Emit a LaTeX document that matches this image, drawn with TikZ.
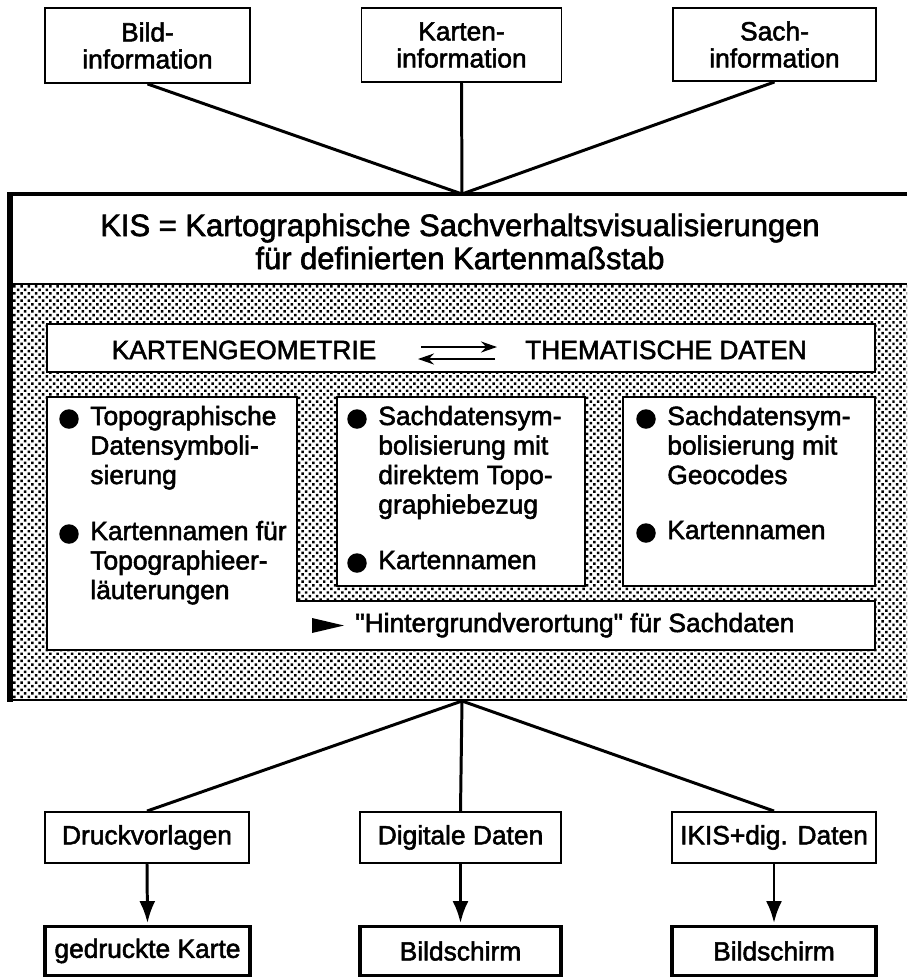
\documentclass[tikz,border=0pt]{standalone}
\usepackage{fontspec}
\setmainfont{Liberation Sans}[Ligatures=TeXOff,FakeBold=2]
\usetikzlibrary{patterns.meta,arrows.meta}
\newcommand\fs{\fontsize{15}{15.4}\selectfont}
\newcommand\mylines[1]{\vtop{\baselineskip=16.8pt\halign{##\hfil\cr#1\crcr}}}
\begin{document}
\begin{tikzpicture}[x=0.02cm,y=-0.02cm,
  box/.style={draw,line width=1.1pt,fill=white,align=center,font=\fs,inner sep=0},
  outbox/.style={draw,line width=1.9pt,fill=white,align=center,font=\fs,inner sep=0},
  conn/.style={line width=1.7pt},
  arr/.style={line width=1.7pt,-{Latex[length=0.44cm,width=0.32cm]},shorten >=1pt},
  harr/.style={line width=1.3pt,-{Stealth[length=0.32cm,width=0.22cm]}},
  txt/.style={font=\fs,inner sep=0},
  bul/.style={circle,fill,inner sep=0,minimum size=0.39cm},
  dotfill/.style={pattern={Dots[distance=2.9pt,radius=1pt,angle=45]}}]
\useasboundingbox (0,0) rectangle (907,978);

% top boxes
\node[box,minimum width=4.1cm,minimum height=1.5cm] (bild) at (147.5,45.5) {Bild-\\information};
\node[box,minimum width=4.0cm,minimum height=1.48cm] (karten) at (461.5,45) {Karten-\\information};
\node[box,minimum width=4.06cm,minimum height=1.46cm] (sach) at (774.5,44.5) {Sach-\\information};
\coordinate (hubT) at (462,194);
\draw[conn] (bild.south) -- (hubT);
\draw[conn] (karten.south) -- (hubT);
\draw[conn] (sach.south) -- (hubT);

% main box
\fill[dotfill] (12,285) rectangle (907,700);
\draw[line width=2.3pt] (8,194) -- (907,194);
\draw[line width=1.1pt] (12,284) -- (907,284);
\draw[line width=1.3pt] (8,700) -- (907,700);
\draw[line width=3pt] (10,192) -- (10,702);
\node[font=\fontsize{17.6}{18.8}\selectfont,align=center,inner sep=0] (title) at (460,241.5)
  {KIS = Kartographische Sachverhaltsvisualisierungen\\für definierten Kartenmaßstab};

% bar
\node[box,minimum width=16.56cm,minimum height=0.96cm] (bar) at (461,348) {};
\node[txt,anchor=base] (kg) at (244,359) {KARTENGEOMETRIE};
\node[txt,anchor=base] (td) at (666,359) {THEMATISCHE DATEN};
\coordinate (ha1) at (421,347); \coordinate (ha2) at (497,347);
\coordinate (hb1) at (495,359); \coordinate (hb2) at (418,359);
\draw[harr] (ha1) -- (ha2);
\draw[harr] (hb1) -- (hb2);

% L-shaped white area
\draw[line width=1.1pt,fill=white] (47,397) -- (297,397) -- (297,601) -- (875,601) -- (875,650) -- (47,650) -- cycle;
\node[box,minimum width=4.96cm,minimum height=3.78cm] (mid) at (461,491.5) {};
\node[box,minimum width=5.04cm,minimum height=3.78cm] (right) at (749,491.5) {};

% left texts
\node[bul] (bl1) at (69,419) {};
\node[txt,anchor=base west] (tl1) at (90,425) {\mylines{Topographische\cr Datensymboli-\cr sierung}};
\node[bul] (bl2) at (69,534) {};
\node[txt,anchor=base west] (tl2) at (90,540) {\mylines{Kartennamen für\cr Topographieer-\cr läuterungen}};
% middle texts
\node[bul] (bm1) at (357,419) {};
\node[txt,anchor=base west] (tm1) at (378,425) {\mylines{Sachdatensym-\cr bolisierung mit\cr direktem Topo-\cr graphiebezug}};
\node[bul] (bm2) at (357,563) {};
\node[txt,anchor=base west] (tm2) at (378,569) {Kartennamen};
% right texts
\node[bul] (br1) at (646,419) {};
\node[txt,anchor=base west] (tr1) at (667,425) {\mylines{Sachdatensym-\cr bolisierung mit\cr Geocodes}};
\node[bul] (br2) at (646,533) {};
\node[txt,anchor=base west] (tr2) at (667,539) {Kartennamen};
% strip
\fill (312,618) -- (344,625.5) -- (312,633) -- cycle;
\node[txt,anchor=base west] (hg) at (355,632) {"Hintergrundverortung" für Sachdaten};

% bottom
\coordinate (hubB) at (462,701);
\node[box,minimum width=4.08cm,minimum height=1.02cm] (druck) at (147,837.5) {Druckvorlagen};
\node[box,minimum width=4.02cm,minimum height=1.02cm] (digi) at (460.5,837.5) {Digitale Daten};
\node[box,minimum width=4.08cm,minimum height=1.02cm] (ikis) at (774,837.5) {IKIS+dig. Daten};
\draw[conn] (hubB) -- (druck.north);
\draw[conn] (hubB) -- (digi.north);
\draw[conn] (hubB) -- (ikis.north);
\node[outbox,minimum width=4.1cm,minimum height=0.98cm] (gedr) at (147.5,951) {gedruckte Karte};
\node[outbox,minimum width=4.02cm,minimum height=0.98cm] (bs1) at (460.5,951) {Bildschirm};
\node[outbox,minimum width=4.08cm,minimum height=0.98cm] (bs2) at (774,951) {Bildschirm};
\draw[arr] (druck.south) -- (gedr.north);
\draw[arr] (digi.south) -- (bs1.north);
\draw[arr] (ikis.south) -- (bs2.north);
\end{tikzpicture}
\end{document}
